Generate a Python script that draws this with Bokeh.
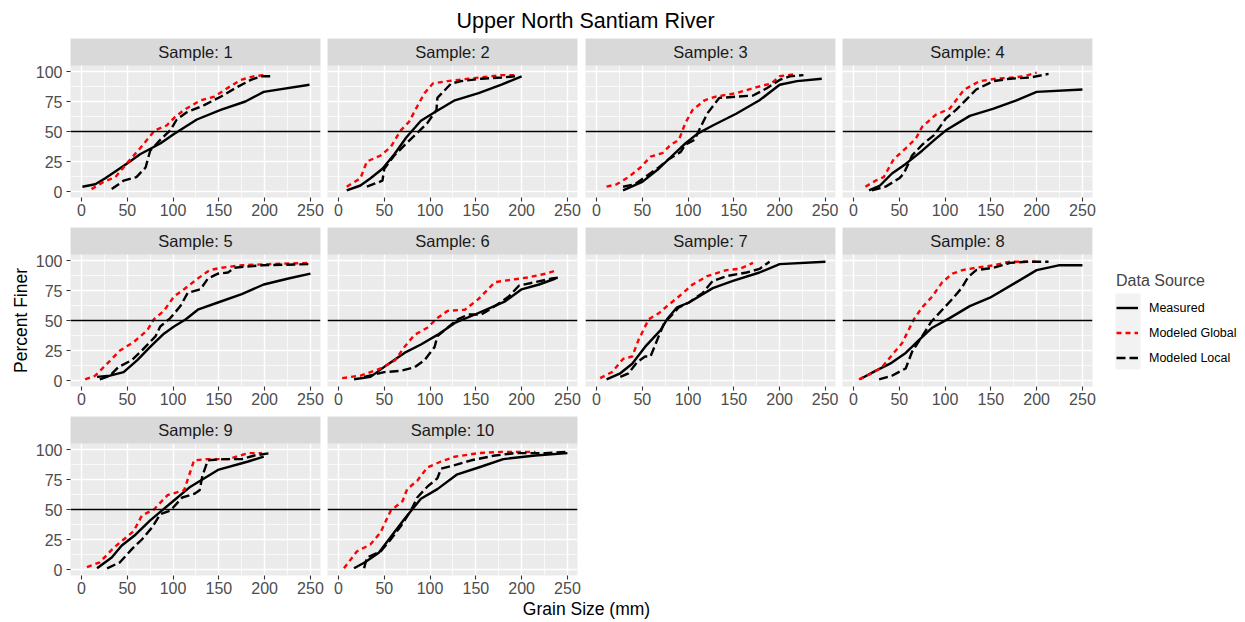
import math
from bokeh.plotting import figure
from bokeh.models import Range1d, FixedTicker, Span, BoxAnnotation, Label, Legend, LegendItem
from bokeh.layouts import row, column
from bokeh.embed import file_html
from bokeh.resources import INLINE

# ---------------- data ----------------
CHART_TITLE = "Upper North Santiam River"
X_TITLE = "Grain Size (mm)"
Y_TITLE = "Percent Finer"
LEGEND_TITLE = "Data Source"
SERIES = ["Measured", "Modeled Global", "Modeled Local"]
SAMPLES = [1, 2, 3, 4, 5, 6, 7, 8, 9, 10]
X_TICKS = [0, 50, 100, 150, 200, 250]
X_MINOR = [25, 75, 125, 175, 225]
Y_TICKS = [0, 25, 50, 75, 100]
Y_MINOR = [12.5, 37.5, 62.5, 87.5]
REF_LINE = 50

meas_x_1 = [1, 15, 26, 49, 64, 86, 101, 126, 152, 179, 199, 249]
meas_y_1 = [4, 6, 11, 23, 31, 40, 48, 60, 68, 75, 83, 89]
glob_x_1 = [11, 24, 37, 49, 64, 80, 93, 102, 112, 130, 145, 159, 174, 188, 199]
glob_y_1 = [2, 8, 12, 23, 36, 51, 55, 62, 68, 76, 79, 86, 93, 96, 97]
loc_x_1 = [33, 46, 60, 70, 75, 86, 97, 104, 115, 134, 152, 170, 185, 196, 210]
loc_y_1 = [2, 9, 12, 20, 34, 43, 51, 60, 66, 72, 79, 87, 93, 96, 96]

meas_x_2 = [9, 24, 35, 48, 61, 74, 90, 105, 127, 153, 178, 200]
meas_y_2 = [1, 5, 11, 19, 31, 45, 59, 66, 76, 82, 89, 96]
glob_x_2 = [9, 24, 31, 46, 57, 68, 77, 86, 94, 103, 119, 142, 167, 178, 193]
glob_y_2 = [4, 11, 25, 30, 37, 51, 58, 71, 82, 90, 92, 94, 96, 97, 97]
loc_x_2 = [31, 48, 50, 61, 74, 85, 97, 107, 108, 123, 134, 156, 178, 193]
loc_y_2 = [4, 9, 19, 30, 40, 48, 57, 68, 78, 90, 92, 94, 95, 96]

meas_x_3 = [29, 50, 68, 83, 97, 110, 127, 153, 178, 200, 219, 246]
meas_y_3 = [1, 8, 19, 30, 40, 48, 55, 65, 76, 89, 92, 94]
glob_x_3 = [11, 22, 35, 48, 59, 72, 81, 90, 97, 105, 118, 130, 153, 175, 191, 200, 219]
glob_y_3 = [4, 6, 12, 20, 29, 32, 39, 43, 57, 68, 76, 79, 82, 87, 90, 96, 98]
loc_x_3 = [29, 42, 53, 68, 79, 92, 97, 107, 112, 121, 134, 153, 171, 186, 200, 211, 226]
loc_y_3 = [4, 6, 12, 20, 27, 33, 39, 43, 51, 65, 78, 79, 80, 86, 93, 96, 97]

meas_x_4 = [17, 29, 42, 57, 75, 90, 101, 127, 153, 178, 200, 250]
meas_y_4 = [1, 5, 15, 23, 34, 44, 51, 63, 69, 76, 83, 85]
glob_x_4 = [13, 24, 33, 44, 57, 68, 75, 90, 105, 121, 138, 156, 175, 186, 200]
glob_y_4 = [4, 9, 12, 27, 36, 44, 54, 64, 69, 85, 92, 94, 95, 96, 99]
loc_x_4 = [20, 35, 50, 55, 64, 75, 88, 101, 112, 125, 134, 153, 171, 193, 213]
loc_y_4 = [1, 4, 11, 15, 30, 39, 47, 61, 68, 78, 85, 92, 94, 95, 98]

meas_x_5 = [17, 31, 46, 61, 75, 90, 101, 114, 127, 149, 175, 199, 226, 250]
meas_y_5 = [3, 4, 7, 17, 28, 39, 45, 51, 59, 65, 72, 80, 85, 89]
glob_x_5 = [4, 15, 28, 42, 57, 72, 79, 90, 101, 112, 127, 140, 153, 175, 204, 250]
glob_y_5 = [1, 4, 14, 25, 32, 42, 51, 58, 70, 76, 85, 92, 94, 96, 97, 98]
loc_x_5 = [20, 31, 40, 55, 66, 81, 86, 97, 108, 116, 130, 138, 149, 160, 167, 197, 250]
loc_y_5 = [1, 4, 11, 17, 25, 37, 45, 52, 62, 73, 76, 85, 89, 90, 94, 96, 97]

meas_x_6 = [17, 35, 53, 72, 90, 108, 127, 149, 167, 182, 200, 219, 237]
meas_y_6 = [1, 3, 13, 23, 30, 38, 48, 55, 61, 66, 76, 80, 85]
glob_x_6 = [4, 24, 46, 62, 72, 83, 97, 108, 119, 138, 153, 171, 189, 208, 226, 239]
glob_y_6 = [2, 4, 10, 17, 28, 38, 44, 52, 58, 59, 68, 82, 84, 86, 89, 92]
loc_x_6 = [28, 50, 68, 83, 94, 105, 108, 116, 130, 142, 156, 171, 186, 197, 215, 233, 243]
loc_y_6 = [3, 7, 8, 11, 17, 28, 37, 42, 51, 55, 55, 62, 70, 79, 82, 85, 86]

meas_x_7 = [11, 26, 39, 53, 70, 77, 88, 101, 127, 149, 178, 200, 250]
meas_y_7 = [1, 6, 14, 28, 42, 51, 61, 65, 77, 83, 90, 97, 99]
glob_x_7 = [4, 17, 29, 39, 46, 57, 68, 77, 90, 105, 121, 142, 156, 171]
glob_y_7 = [2, 7, 18, 20, 34, 51, 56, 62, 70, 80, 87, 92, 93, 98]
loc_x_7 = [26, 35, 44, 53, 59, 68, 74, 83, 90, 101, 116, 127, 142, 164, 178, 189]
loc_y_7 = [3, 6, 15, 20, 20, 37, 48, 55, 61, 65, 73, 83, 87, 90, 93, 99]

meas_x_8 = [7, 24, 40, 57, 72, 86, 105, 127, 149, 178, 200, 224, 250]
meas_y_8 = [1, 8, 14, 23, 34, 44, 52, 62, 69, 82, 92, 96, 96]
glob_x_8 = [6, 20, 31, 44, 53, 66, 75, 86, 97, 108, 119, 134, 153, 171, 199]
glob_y_8 = [1, 6, 11, 23, 31, 51, 61, 70, 82, 89, 92, 94, 96, 99, 99]
loc_x_8 = [28, 42, 57, 64, 75, 85, 97, 108, 118, 125, 134, 153, 171, 189, 213]
loc_y_8 = [1, 4, 10, 24, 37, 49, 59, 68, 77, 86, 92, 94, 98, 99, 99]

meas_x_9 = [17, 33, 44, 59, 75, 97, 119, 149, 182, 199]
meas_y_9 = [1, 10, 20, 29, 41, 55, 69, 83, 90, 94]
glob_x_9 = [6, 20, 35, 46, 57, 66, 79, 94, 112, 123, 138, 160, 182, 197]
glob_y_9 = [2, 6, 18, 25, 32, 45, 50, 62, 66, 91, 92, 92, 97, 97]
loc_x_9 = [28, 42, 55, 66, 77, 86, 97, 110, 123, 129, 132, 138, 156, 175, 189, 206]
loc_y_9 = [1, 6, 17, 25, 35, 46, 49, 60, 63, 66, 78, 91, 92, 92, 95, 97]

meas_x_10 = [17, 29, 44, 57, 72, 90, 108, 129, 153, 180, 215, 250]
meas_y_10 = [1, 6, 14, 27, 42, 59, 67, 79, 85, 92, 95, 97]
glob_x_10 = [6, 20, 35, 46, 57, 70, 75, 86, 97, 112, 127, 153, 178, 215]
glob_y_10 = [1, 15, 21, 31, 49, 57, 67, 74, 85, 90, 94, 97, 98, 98]
loc_x_10 = [28, 31, 46, 57, 68, 79, 86, 97, 108, 112, 127, 145, 171, 193, 226, 250]
loc_y_10 = [1, 10, 15, 25, 36, 49, 60, 69, 76, 84, 87, 91, 95, 97, 97, 98]

# ---------------- styling ----------------
FONT = "Liberation Sans"
PANEL_BG = "#EBEBEB"
STRIP_BG = "#D9D9D9"
KEY_BG = "#F2F2F2"
STYLES = [
    dict(line_color="black", line_width=2.4, line_dash="solid", line_join="round"),
    dict(line_color="#FF0000", line_width=2.4, line_dash="5 4"),
    dict(line_color="black", line_width=2.4, line_dash="9 4"),
]

X_START, X_END = -12, 261
Y_START, Y_PANEL_TOP = -5, 105
FRAME_W = 250
PANEL_H = 132
STRIP_H = 27
FRAME_H = PANEL_H + STRIP_H
Y_TOP = Y_PANEL_TOP + (Y_PANEL_TOP - Y_START) * STRIP_H / PANEL_H

COL_BORDERS = [(40, 4), (3, 4), (4, 3), (4, 4)]
ROW_BOTTOM = [30, 30, 25]
YFIG_W = 30
LEGFIG_W = 149
TITLE_H = 38
XT_H = 22

series_data = {
    n: [
        (globals()[f"meas_x_{n}"], globals()[f"meas_y_{n}"]),
        (globals()[f"glob_x_{n}"], globals()[f"glob_y_{n}"]),
        (globals()[f"loc_x_{n}"], globals()[f"loc_y_{n}"]),
    ]
    for n in SAMPLES
}


def make_panel(n, col, r):
    left, right = COL_BORDERS[col]
    bottom = ROW_BOTTOM[r]
    p = figure(
        width=left + FRAME_W + right, height=FRAME_H + bottom,
        x_range=Range1d(X_START, X_END), y_range=Range1d(Y_START, Y_TOP),
        output_backend="svg", toolbar_location=None, title=None,
        y_axis_location="left" if col == 0 else None,
        min_border_left=left, min_border_right=right,
        min_border_top=0, min_border_bottom=bottom,
        background_fill_color=PANEL_BG, border_fill_color="white",
        outline_line_color=None,
    )
    p.xgrid.ticker = FixedTicker(ticks=X_TICKS, minor_ticks=X_MINOR)
    p.ygrid.ticker = FixedTicker(ticks=Y_TICKS, minor_ticks=Y_MINOR)
    for g in (p.xgrid, p.ygrid):
        g.grid_line_color = "white"
        g.grid_line_width = 1.4
        g.minor_grid_line_color = "white"
        g.minor_grid_line_width = 0.7
    axes = list(p.xaxis) + (list(p.yaxis) if col == 0 else [])
    p.xaxis.ticker = FixedTicker(ticks=X_TICKS, minor_ticks=X_MINOR)
    if col == 0:
        p.yaxis.ticker = FixedTicker(ticks=Y_TICKS, minor_ticks=Y_MINOR)
    for ax in axes:
        ax.axis_line_color = None
        ax.major_tick_line_color = "#333333"
        ax.major_tick_line_width = 1.1
        ax.major_tick_out = 4
        ax.major_tick_in = 0
        ax.minor_tick_line_color = None
        ax.major_label_text_font = FONT
        ax.major_label_text_font_size = "16px"
        ax.major_label_text_color = "#4D4D4D"
    p.xaxis.major_label_standoff = 2
    if col == 0:
        p.yaxis.major_label_standoff = 4

    for (xs, ys), st in zip(series_data[n], STYLES):
        p.line(xs, ys, **st)

    p.add_layout(Span(location=REF_LINE, dimension="width", line_color="black", line_width=1.3))
    p.add_layout(BoxAnnotation(bottom=Y_PANEL_TOP, fill_color=STRIP_BG, fill_alpha=1.0,
                               line_color=None))
    p.add_layout(Label(x=(X_START + X_END) / 2, y=(Y_PANEL_TOP + Y_TOP) / 2,
                       text=f"Sample: {n}", text_align="center", text_baseline="middle",
                       text_font=FONT, text_font_size="16.5px", text_color="#1A1A1A"))
    return p


def text_fig(width, height, left=0, right=0):
    f = figure(width=width, height=height, x_range=Range1d(0, width - left - right),
               y_range=Range1d(0, height), output_backend="svg", toolbar_location=None,
               title=None, x_axis_location=None, y_axis_location=None,
               min_border_left=left, min_border_right=right, min_border_top=0,
               min_border_bottom=0, outline_line_color=None,
               background_fill_color="white", border_fill_color="white")
    f.grid.visible = False
    return f


panels = []
for i, n in enumerate(SAMPLES):
    panels.append(make_panel(n, i % 4, i // 4))

grid_w = sum(l + FRAME_W + r for l, r in COL_BORDERS)
rows_h = sum(FRAME_H + b for b in ROW_BOTTOM)

tfig = text_fig(YFIG_W + grid_w, TITLE_H, left=YFIG_W + COL_BORDERS[0][0], right=0)
tw = YFIG_W + grid_w - YFIG_W - COL_BORDERS[0][0]
tfig.add_layout(Label(x=tw / 2 + 2, y=TITLE_H - 20, text=CHART_TITLE, text_align="center",
                      text_baseline="middle", text_font=FONT, text_font_size="21.5px",
                      text_color="black"))

yfig = text_fig(YFIG_W, rows_h)
yfig.add_layout(Label(x=20, y=rows_h - (320 - TITLE_H), text=Y_TITLE, angle=math.pi / 2,
                      text_align="center", text_baseline="middle", text_font=FONT,
                      text_font_size="17.5px", text_color="black"))

xfig = text_fig(YFIG_W + grid_w, XT_H, left=YFIG_W + COL_BORDERS[0][0], right=0)
xfig.add_layout(Label(x=tw / 2 + 3, y=XT_H - 8, text=X_TITLE, text_align="center",
                      text_baseline="middle", text_font=FONT, text_font_size="17.5px",
                      text_color="black"))

# legend: key-swatch renderers hold a single NaN point so nothing is drawn in the frame
lfig = text_fig(LEGFIG_W, rows_h)
lfig.add_layout(BoxAnnotation(left=19, right=44, bottom=rows_h - (369 - TITLE_H),
                              top=rows_h - (293 - TITLE_H), fill_color=KEY_BG,
                              fill_alpha=1.0, line_color=None, level="underlay"))
items = []
for name, st in zip(SERIES, STYLES):
    rr = lfig.line(x=[float("nan")], y=[float("nan")], **st)
    items.append(LegendItem(label=name, renderers=[rr]))
leg = Legend(items=items, location=(20, rows_h - (370 - TITLE_H)), title=LEGEND_TITLE,
             border_line_color=None, background_fill_alpha=0.0, padding=0, margin=0,
             spacing=0, glyph_width=22, glyph_height=25, label_standoff=11,
             label_text_font=FONT, label_text_font_size="12.5px", label_text_color="black",
             title_text_font=FONT, title_text_font_size="16px", title_text_font_style="normal",
             title_standoff=5)
lfig.add_layout(leg)

grid = column(
    row(*panels[0:4]),
    row(*panels[4:8]),
    row(*panels[8:10]),
)
layout = column(tfig, row(yfig, grid, lfig), xfig)

open("out.html", "w").write(file_html(layout, INLINE))
